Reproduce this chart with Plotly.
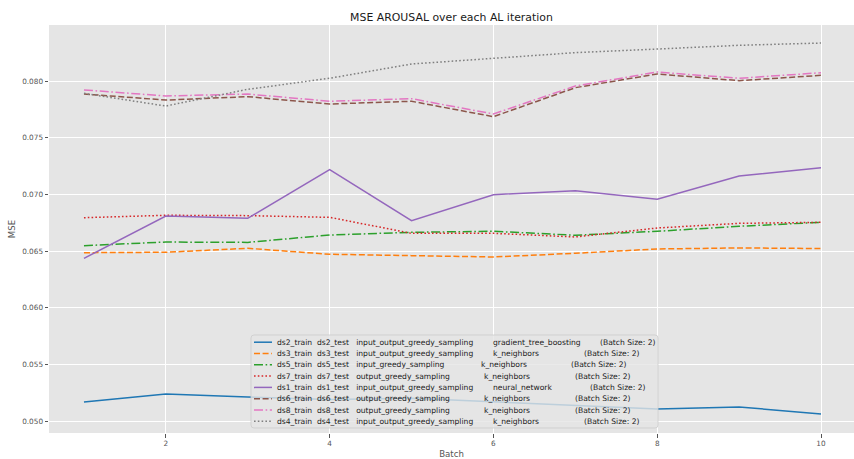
import plotly.graph_objects as go

# ---- data -------------------------------------------------------------
batches = [1, 2, 3, 4, 5, 6, 7, 8, 9, 10]

ds2 = [0.05168, 0.05238, 0.05212, 0.05190, 0.05200, 0.05170, 0.05140, 0.05106, 0.05124, 0.05062]
ds3 = [0.06485, 0.06489, 0.06524, 0.06471, 0.06459, 0.06447, 0.06480, 0.06518, 0.06527, 0.06522]
ds5 = [0.06547, 0.06579, 0.06576, 0.06641, 0.06665, 0.06674, 0.06639, 0.06674, 0.06718, 0.06753]
ds7 = [0.06794, 0.06815, 0.06812, 0.06797, 0.06656, 0.06656, 0.06624, 0.06703, 0.06744, 0.06753]
ds1 = [0.06435, 0.06809, 0.06788, 0.07218, 0.06768, 0.06997, 0.07032, 0.06956, 0.07162, 0.07235]
ds6 = [0.07885, 0.07832, 0.07862, 0.07797, 0.07821, 0.07685, 0.07941, 0.08062, 0.08003, 0.08050]
ds8 = [0.07921, 0.07868, 0.07885, 0.07821, 0.07844, 0.07709, 0.07956, 0.08079, 0.08024, 0.08073]
ds4 = [0.07891, 0.07779, 0.07927, 0.08024, 0.08150, 0.08203, 0.08250, 0.08282, 0.08315, 0.08335]

train_names = ["ds2_train", "ds3_train", "ds5_train", "ds7_train", "ds1_train", "ds6_train", "ds8_train", "ds4_train"]
test_names = ["ds2_test", "ds3_test", "ds5_test", "ds7_test", "ds1_test", "ds6_test", "ds8_test", "ds4_test"]
strategies = ["input_output_greedy_sampling", "input_output_greedy_sampling", "input_greedy_sampling",
              "output_greedy_sampling", "input_output_greedy_sampling", "output_greedy_sampling",
              "output_greedy_sampling", "input_output_greedy_sampling"]
models = ["gradient_tree_boosting", "k_neighbors", "k_neighbors", "k_neighbors",
          "neural_network", "k_neighbors", "k_neighbors", "k_neighbors"]
batch_label = "(Batch Size: 2)"

y_ticks = [0.050, 0.055, 0.060, 0.065, 0.070, 0.075, 0.080]
x_ticks = [2, 4, 6, 8, 10]

series = [ds2, ds3, ds5, ds7, ds1, ds6, ds8, ds4]

# ---- styling ----------------------------------------------------------
colors = ["#1f77b4", "#ff7f0e", "#2ca02c", "#d62728", "#9467bd", "#8c564b", "#e377c2", "#7f7f7f"]
DASHED = "6px,2.6px"
DASHDOT = "9px,2.6px,1.6px,2.6px"
DOTTED = "1.6px,2.2px"
dashes = ["solid", DASHED, DASHDOT, DOTTED, "solid", DASHED, DASHDOT, DOTTED]

W, H = 854, 459
L, R, T, B = 49, 0, 25, 26
PW, PH = W - L - R, H - T - B
FONT = "DejaVu Sans"


def px(x):
    return (x - L) / PW


def py(y):
    return (H - B - y) / PH


fig = go.Figure()
for i, vals in enumerate(series):
    label = f"{train_names[i]}  {test_names[i]}  {strategies[i]}  {models[i]}  {batch_label}"
    fig.add_trace(go.Scatter(
        x=batches, y=vals, mode="lines", name=label,
        line=dict(color=colors[i], width=1.5, dash=dashes[i]),
        showlegend=False,
    ))

# ---- legend box (drawn by hand so rows sit close together) -------------
shapes = []
annotations = []
bx0, bx1, by0, by1, rad = 251, 658, 335, 428, 3
x0, x1, y0, y1 = px(bx0), px(bx1), py(by0), py(by1)
rx, ry = rad / PW, rad / PH
path = (f"M {x0 + rx},{y0} L {x1 - rx},{y0} Q {x1},{y0} {x1},{y0 - ry} "
        f"L {x1},{y1 + ry} Q {x1},{y1} {x1 - rx},{y1} "
        f"L {x0 + rx},{y1} Q {x0},{y1} {x0},{y1 + ry} "
        f"L {x0},{y0 - ry} Q {x0},{y0} {x0 + rx},{y0} Z")
shapes.append(dict(type="path", path=path, xref="paper", yref="paper",
                   fillcolor="rgba(229,229,229,0.8)",
                   line=dict(color="rgba(204,204,204,0.8)", width=1), layer="above"))

row0, row_step = 342.2, 11.3
model_x = [490.7, 490.7, 478.7, 481.7, 490.7, 481.7, 481.7, 490.7]
batch_x = [597.7, 581.7, 569.3, 573.3, 587.7, 572.7, 572.7, 581.7]
nb = "\u00a0"
legend_font = dict(family=FONT, size=7.6, color="#1a1a1a")
for i in range(len(series)):
    yc = row0 + i * row_step
    shapes.append(dict(type="line", xref="paper", yref="paper",
                       x0=px(254), x1=px(272), y0=py(yc), y1=py(yc),
                       line=dict(color=colors[i], width=1.5, dash=dashes[i]), layer="above"))
    head = f"{train_names[i]}{nb * 2}{test_names[i]}{nb * 3}{strategies[i]}"
    for xpos, txt in [(275, head), (model_x[i], models[i]), (batch_x[i], batch_label)]:
        annotations.append(dict(text=txt, x=px(xpos), y=py(yc), xref="paper", yref="paper",
                                xanchor="left", yanchor="middle", showarrow=False,
                                font=legend_font))

fig.update_layout(
    width=W, height=H,
    margin=dict(l=L, r=R, t=T, b=B, pad=0),
    paper_bgcolor="white",
    plot_bgcolor="#E5E5E5",
    font=dict(family=FONT, color="#555555"),
    title=dict(text="MSE AROUSAL over each AL iteration", x=(451.5) / W, xanchor="center",
               y=1 - 17 / H, yanchor="middle", font=dict(family=FONT, size=10.9, color="#1a1a1a")),
    shapes=shapes,
    annotations=annotations,
    showlegend=False,
)
fig.update_xaxes(
    range=[0.573, 10.403], tickvals=x_ticks, ticktext=[str(v) for v in x_ticks],
    showgrid=True, gridcolor="white", gridwidth=1, zeroline=False,
    ticks="outside", ticklen=3.5, tickcolor="#555555", tickwidth=0.8,
    tickfont=dict(family=FONT, size=7.3, color="#555555"),
    title=dict(text="Batch", font=dict(family=FONT, size=8.6, color="#555555"), standoff=6),
    showline=False,
)
fig.update_yaxes(
    range=[0.048941, 0.084941], tickvals=y_ticks, ticktext=[f"{v:.3f}" for v in y_ticks],
    showgrid=True, gridcolor="white", gridwidth=1, zeroline=False,
    ticks="outside", ticklen=3.5, tickcolor="#555555", tickwidth=0.8,
    tickfont=dict(family=FONT, size=7.3, color="#555555"),
    title=dict(text="MSE", font=dict(family=FONT, size=8.6, color="#555555"), standoff=5),
    showline=False,
)

fig.write_html("out.html")
